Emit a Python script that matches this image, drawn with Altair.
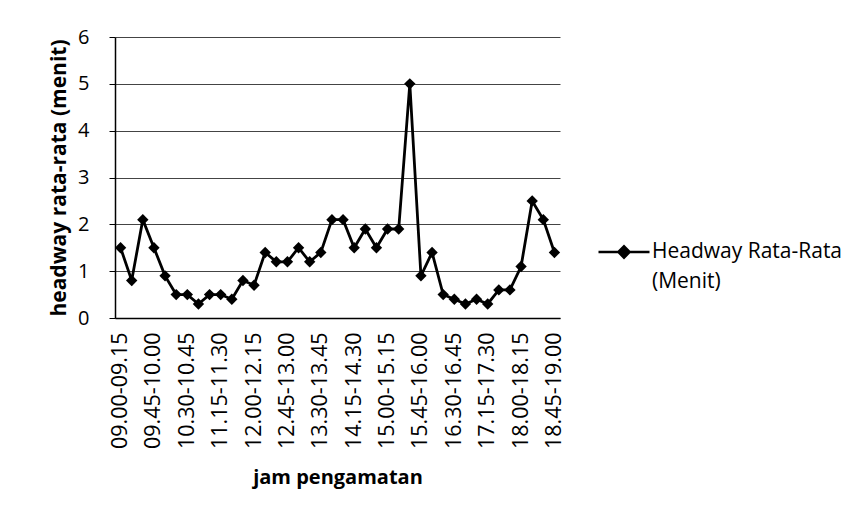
import altair as alt
import pandas as pd

intervals = [
    "09.00-09.15", "09.15-09.30", "09.30-09.45", "09.45-10.00",
    "10.00-10.15", "10.15-10.30", "10.30-10.45", "10.45-11.00",
    "11.00-11.15", "11.15-11.30", "11.30-11.45", "11.45-12.00",
    "12.00-12.15", "12.15-12.30", "12.30-12.45", "12.45-13.00",
    "13.00-13.15", "13.15-13.30", "13.30-13.45", "13.45-14.00",
    "14.00-14.15", "14.15-14.30", "14.30-14.45", "14.45-15.00",
    "15.00-15.15", "15.15-15.30", "15.30-15.45", "15.45-16.00",
    "16.00-16.15", "16.15-16.30", "16.30-16.45", "16.45-17.00",
    "17.00-17.15", "17.15-17.30", "17.30-17.45", "17.45-18.00",
    "18.00-18.15", "18.15-18.30", "18.30-18.45", "18.45-19.00",
]
headway = [
    1.5, 0.8, 2.1, 1.5, 0.9, 0.5, 0.5, 0.3, 0.5, 0.5,
    0.4, 0.8, 0.7, 1.4, 1.2, 1.2, 1.5, 1.2, 1.4, 2.1,
    2.1, 1.5, 1.9, 1.5, 1.9, 1.9, 5.0, 0.9, 1.4, 0.5,
    0.4, 0.3, 0.4, 0.3, 0.6, 0.6, 1.1, 2.5, 2.1, 1.4,
]
shown_labels = [
    "09.00-09.15", "09.45-10.00", "10.30-10.45", "11.15-11.30",
    "12.00-12.15", "12.45-13.00", "13.30-13.45", "14.15-14.30",
    "15.00-15.15", "15.45-16.00", "16.30-16.45", "17.15-17.30",
    "18.00-18.15", "18.45-19.00",
]
y_ticks = [0, 1, 2, 3, 4, 5, 6]
series_name = "Headway Rata-Rata (Menit)"

df = pd.DataFrame({"jam": intervals, "headway": headway})
df["seri"] = series_name

FONT = "Open Sans"

chart = alt.Chart(df).mark_line(
    strokeWidth=2.8,
    point=alt.OverlayMarkDef(shape="diamond", size=130, filled=True, color="black", opacity=1),
).encode(
    x=alt.X(
        "jam:N",
        sort=intervals,
        title="jam pengamatan",
        axis=alt.Axis(
            values=shown_labels,
            labelAngle=-90,
            labelFont=FONT,
            labelFontSize=21.5,
            labelColor="black",
            labelPadding=14,
            ticks=False,
            domainColor="black",
            domainWidth=1.5,
            grid=False,
            titleFont=FONT,
            titleFontSize=20,
            titleFontWeight="bold",
            titleColor="black",
            titlePadding=19,
        ),
    ),
    y=alt.Y(
        "headway:Q",
        scale=alt.Scale(domain=[0, 6], nice=False),
        title="headway rata-rata (menit)",
        axis=alt.Axis(
            values=y_ticks,
            labelFont=FONT,
            labelFontSize=20,
            labelColor="black",
            labelPadding=20,
            tickSize=6,
            tickColor="black",
            domainColor="black",
            domainWidth=1.5,
            grid=True,
            gridColor="#444444",
            gridWidth=1,
            titleFont=FONT,
            titleFontSize=21,
            titleFontWeight="bold",
            titleColor="black",
            titlePadding=8,
        ),
    ),
    color=alt.Color(
        "seri:N",
        scale=alt.Scale(range=["black"]),
        legend=alt.Legend(
            title=None,
            orient="none",
            legendX=482,
            legendY=188,
            padding=0,
            symbolType="M-1,0L1,0M-0.22,0L0,-0.22L0.22,0L0,0.22Z",
            symbolSize=2601,
            symbolStrokeWidth=2.5,
            symbolFillColor="black",
            symbolStrokeColor="black",
            labelFont=FONT,
            labelFontSize=21,
            labelColor="black",
            labelLimit=400,
            labelOffset=1,
            labelBaseline="middle",
            labelExpr="['Headway Rata-Rata', '(Menit)']",
        ),
    ),
).properties(
    width=445,
    height=281,
    autosize=alt.AutoSizeParams(type="none"),
    padding={"left": 107, "top": 29, "right": 290, "bottom": 180},
).configure(
    background="white",
    view=alt.ViewConfig(stroke=None),
    style={"guide-label": {"lineHeight": 30}},
)

chart.save("out.html", embed_options={"renderer": "svg", "actions": False})
